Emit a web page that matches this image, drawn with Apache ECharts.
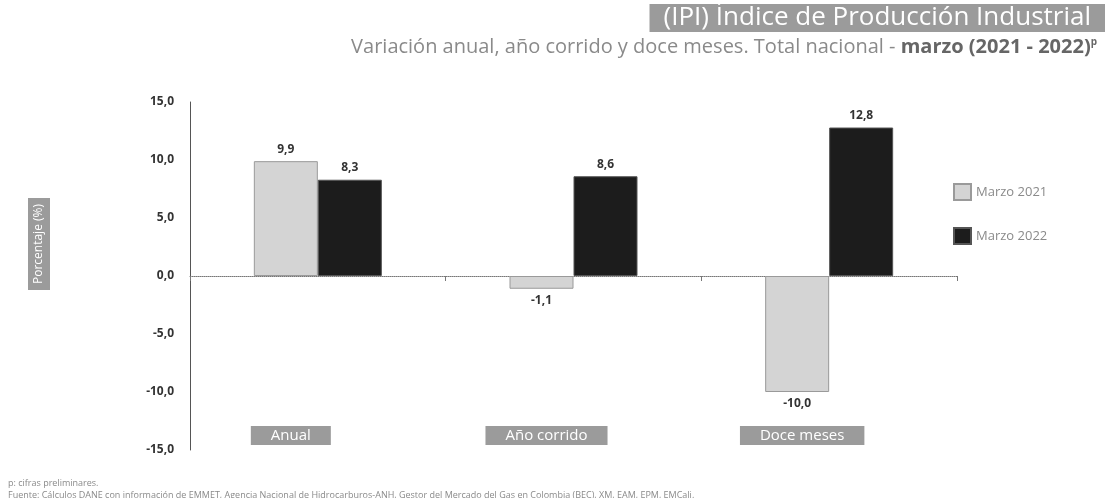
<!DOCTYPE html>
<html>
<head>
<meta charset="utf-8">
<script src="https://cdn.jsdelivr.net/npm/echarts@6/dist/echarts.min.js"></script>
<style>
  html, body { margin:0; padding:0; background:#fff; }
  #chart { width:1110px; height:498px; }
</style>
</head>
<body>
<div id="chart"></div>
<script>
// datos
var categorias = ['Anual', 'Año corrido', 'Doce meses'];
var marzo2021 = [9.9, -1.1, -10.0];
var marzo2022 = [8.3, 8.6, 12.8];
var nombresSerie = ['Marzo 2021', 'Marzo 2022'];

var gris = '#9b9b9b';

function fmt(v){
  return v.toFixed(1).replace('.', ',');
}

// etiqueta arriba o abajo segun el signo
function toData(arr){
  return arr.map(function(v){
    return { value: v, label: { position: v < 0 ? 'bottom' : 'top' } };
  });
}

var chart = echarts.init(document.getElementById('chart'));

var option = {
  animation: false,
  textStyle: { fontFamily: 'Open Sans' },
  title: [
    {
      text: '(IPI) Índice de Producción Industrial',
      right: 5, top: 4,
      backgroundColor: gris,
      padding: [0, 14],
      textStyle: { color: '#fff', fontSize: 26, fontWeight: 'normal', lineHeight: 28 }
    },
    {
      text: '{n|Variación anual, año corrido y doce meses. Total nacional - }{b|marzo (2021 - 2022)}{s|p}',
      right: 8, top: 32,
      textStyle: {
        rich: {
          n: { color: '#8a8a8a', fontSize: 20, fontWeight: 'normal' },
          b: { color: '#666', fontSize: 20, fontWeight: 'bold' },
          s: { color: '#666', fontSize: 10, verticalAlign: 'top', padding: [0, 0, 10, 0] }
        }
      }
    },
    {
      text: 'p: cifras preliminares.\nFuente: Cálculos DANE con información de EMMET, Agencia Nacional de Hidrocarburos-ANH, Gestor del Mercado del Gas en Colombia (BEC), XM, EAM, EPM, EMCali.',
      left: 3, top: 472,
      textStyle: { color: '#8a8a8a', fontSize: 9, fontWeight: 'normal', lineHeight: 12 }
    }
  ],
  legend: {
    orient: 'vertical',
    left: 948, top: 178,
    itemWidth: 17, itemHeight: 16,
    itemGap: 26,
    itemTextGap: 12,
    icon: 'rect',
    data: nombresSerie,
    textStyle: { color: '#8a8a8a', fontSize: 13 }
  },
  graphic: [
    {
      type: 'text',
      left: 28, top: 198,
      rotation: Math.PI / 2,
      style: {
        text: 'Porcentaje (%)',
        fill: '#fff', fontSize: 12, fontFamily: 'Open Sans',
        backgroundColor: gris, padding: [5, 6]
      }
    }
  ],
  grid: { left: 190, right: 153, top: 102, bottom: 48, containLabel: false, outerBoundsMode: 'none' },
  xAxis: {
    type: 'category',
    data: categorias,
    axisLine: { onZero: true, lineStyle: { color: '#777', type: 'dotted', width: 1 } },
    axisTick: { show: true, length: 5, lineStyle: { color: '#777' } },
    axisLabel: {
      margin: -24,
      formatter: function(v){ return '{b|' + v + '}{sp|}'; },
      rich: {
        b: { color: '#fff', fontSize: 15, backgroundColor: gris, padding: [2, 20] },
        sp: { width: 54 }
      }
    }
  },
  yAxis: {
    type: 'value',
    min: -15, max: 15, interval: 5,
    axisLine: { show: true, lineStyle: { color: '#555', width: 1 } },
    axisTick: { show: false },
    splitLine: { show: false },
    axisLabel: {
      color: '#333', fontSize: 12, fontWeight: 'bold', margin: 16,
      formatter: function(v){ return fmt(v); }
    }
  },
  series: [
    {
      name: nombresSerie[0],
      type: 'bar',
      barWidth: 64,
      barGap: '0%',
      itemStyle: { color: '#d4d4d4', borderColor: '#9a9a9a', borderWidth: 1 },
      label: {
        show: true, distance: 6, color: '#333', fontSize: 12, fontWeight: 'bold',
        formatter: function(p){ return fmt(p.value); }
      },
      data: toData(marzo2021)
    },
    {
      name: nombresSerie[1],
      type: 'bar',
      barWidth: 64,
      barGap: '0%',
      itemStyle: { color: '#1c1c1c', borderColor: '#555', borderWidth: 1 },
      label: {
        show: true, distance: 6, color: '#333', fontSize: 12, fontWeight: 'bold',
        formatter: function(p){ return fmt(p.value); }
      },
      data: toData(marzo2022)
    }
  ]
};

chart.setOption(option);
</script>
</body>
</html>
